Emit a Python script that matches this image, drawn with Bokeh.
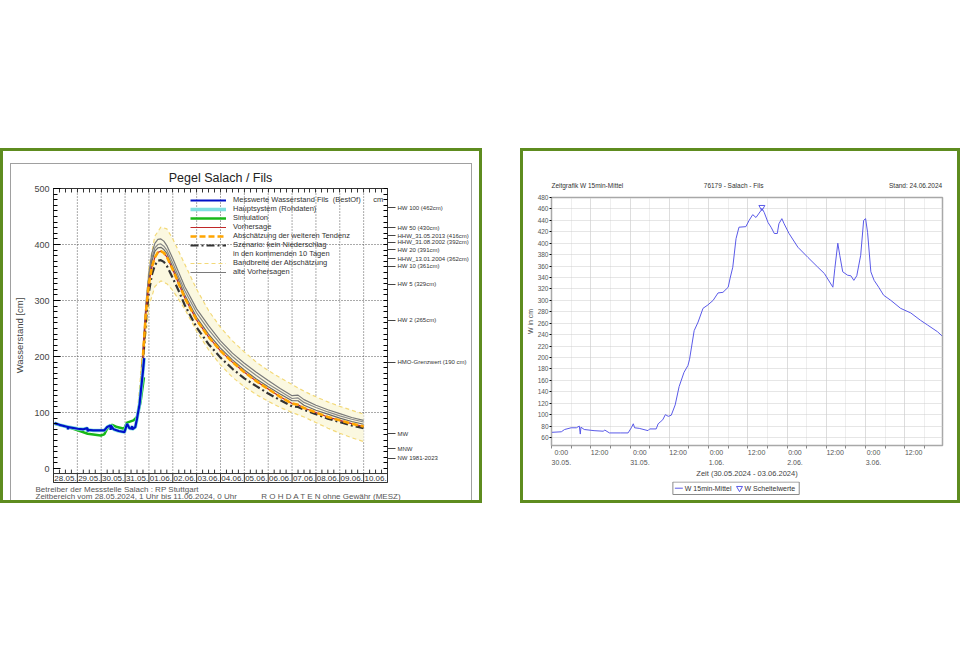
import math
from bokeh.plotting import figure
from bokeh.models import (Range1d, FixedTicker, LinearAxis, Spacer, Title)
from bokeh.models import Legend, LegendItem
from bokeh.layouts import row, column
from bokeh.core.properties import value
from bokeh.embed import file_html
from bokeh.resources import INLINE

FONT = "Liberation Sans"
GREEN = "#5e8c1f"
NBSP = "\u00a0"

# ================= LEFT CHART DATA (hours since 28.05.2024 00:00) =================
day_labels = ["28.05.", "29.05.", "30.05.", "31.05.", "01.06.", "02.06.", "03.06.",
              "04.06.", "05.06.", "06.06.", "07.06.", "08.06.", "09.06.", "10.06."]

meas_h = [1, 6, 14.4, 14.6, 14.8, 24.5, 30, 34.2, 34.4, 34.6, 40, 47.6, 51, 54, 57.3, 57.5,
          57.7, 60.5, 65.5, 71.4, 74, 76.4, 78.8, 79, 79.2, 82.3, 84, 86.6, 88, 89.9, 91.2]
meas_v = [81, 78, 74, 70, 74, 71, 70, 72, 66, 69, 68, 68, 68, 74, 77, 69,
          77, 70, 67, 65, 80, 72, 71, 76, 70, 74, 89, 115, 140, 172, 197]

sim_h = [1, 14.6, 24.5, 34.4, 47.6, 51, 54, 59, 64, 71, 74, 80.5, 84, 87.6, 91]
sim_v = [80, 74, 68, 62, 59, 61, 71, 78, 74, 71, 82, 86, 92, 119, 163]

fc_h = [84, 87, 90, 93, 96, 99, 102, 105, 108, 111, 114, 120, 126, 132, 144, 156, 168,
        180, 192, 204, 216, 228, 240, 246, 252, 264, 276, 288, 300, 312]
tendenz = [90, 120, 200, 280, 330, 360, 377, 386, 388, 385, 378, 355, 330, 305, 265, 235, 210,
           190, 172, 156, 142, 128, 116, 114, 108, 100, 92, 86, 80, 75]
alt1 = [90, 125, 210, 295, 350, 385, 402, 409, 410, 406, 398, 375, 350, 325, 285, 255, 228,
        206, 188, 172, 157, 143, 130, 131, 123, 113, 105, 98, 91, 86]
alt2 = [90, 122, 205, 290, 343, 376, 394, 400, 401, 397, 390, 367, 342, 318, 278, 248, 222,
        200, 182, 166, 151, 138, 125, 126, 118, 109, 101, 94, 88, 83]
alt3 = [90, 121, 203, 286, 338, 370, 388, 394, 395, 391, 384, 360, 336, 310, 270, 240, 215,
        194, 176, 160, 146, 133, 121, 121, 113, 104, 97, 90, 84, 79]
szenario = [90, 118, 190, 265, 315, 346, 363, 371, 372, 369, 362, 340, 317, 292, 252, 222, 198,
            178, 161, 147, 134, 122, 111, 110, 105, 97, 89, 83, 77, 72]

band_h = [84, 90, 96, 102, 108, 114, 120, 132, 144, 156, 168, 180, 192, 204, 216, 228, 240,
          252, 264, 276, 288, 300, 312]
band_hi = [92, 215, 360, 415, 431, 428, 410, 365, 320, 282, 252, 228, 208, 190, 175, 162, 150,
           138, 128, 119, 111, 104, 97]
band_lo = [88, 185, 290, 325, 335, 330, 318, 285, 245, 212, 185, 163, 146, 132, 120, 109, 100,
           92, 82, 72, 63, 55, 48]

ann_vals = [462, 430, 416, 392, 391, 362, 361, 329, 265, 190, 62, 30, 20]
ann_text = ["HW 100 (462cm)", "HW 50 (430cm)", "HHW_31.05.2013 (416cm)", "HHW_31.08.2002 (392cm)",
            "HW 20 (391cm)", "HHW_13.01.2004 (362cm)", "HW 10 (361cm)", "HW 5 (329cm)",
            "HW 2 (265cm)", "HMO-Grenzwert (190 cm)", "MW", "MNW", "NW 1981-2023"]
ann_nudge_px = [2, 0, 0, 7, 0, 7, 0, 0, 0, 0, 0, 3, -1]   # label nudges (layout only)

# ================= RIGHT CHART DATA (hours since 30.05.2024 00:00) =================
w_h = [0, 3, 4, 6, 7.6, 8.5, 8.8, 9.0, 10, 13, 15.8, 16.3, 17.7, 21, 23.4, 24.4, 25, 25.4,
       26.8, 29.5, 30, 32, 32.6, 33.2, 34, 34.8, 35.7, 36.6, 37.8, 39, 40.5, 41.7, 42.2, 43.6,
       44.8, 46.3, 47.8, 49.4, 50.9, 52.4, 54, 54.6, 55.4, 56.4, 57.3, 59.4, 60.4, 61.5, 62.5,
       64, 64.3, 65, 66.2, 67.1, 68.1, 69, 69.5, 70.4, 71.1, 72.6, 75.3, 78.4, 81.4, 83.4, 86,
       86.6, 87.5, 88.1, 89, 90.5, 91.5, 92.4, 93.3, 94.5, 95.4, 96, 96.6, 97.6, 98.6, 100,
       101.5, 103.7, 106.7, 109.8, 112.8, 114.9, 118, 119.3]
w_v = [69, 70, 74, 77, 77, 80, 66, 78, 74, 72, 71, 73, 68, 68, 68, 77, 84, 77,
       76, 72, 75, 75, 84, 87, 91, 100, 97, 99, 117, 149, 174, 186, 197, 247,
       262, 286, 292, 300, 313, 314, 323, 339, 358, 408, 428, 429, 440, 450, 445,
       457, 461, 454, 436, 428, 417, 417, 434, 443, 434, 417, 393, 375, 358, 347, 323,
       356, 400, 379, 350, 344, 343, 335, 343, 379, 440, 443, 419, 350, 335, 323,
       309, 300, 286, 278, 265, 257, 245, 238]
peak_h = [64.3]
peak_v = [463]
r_time_labels = ["0:00", "12:00", "0:00", "12:00", "0:00", "12:00", "0:00", "12:00", "0:00", "12:00"]
r_date_labels = ["30.05.", "", "31.05.", "", "1.06.", "", "2.06.", "", "3.06.", ""]
hdr_texts = ["Zeitgrafik W 15min-Mittel", "76179 - Salach - Fils", "Stand: 24.06.2024"]
legend_texts = ["W 15min-Mittel", "W Scheitelwerte"]

# ================= LEFT FIGURE =================
n_days = len(day_labels)
x_end = n_days * 24
pl = figure(width=460, height=336, x_range=Range1d(0, x_end), y_range=Range1d(-25, 500),
            x_axis_type=None, output_backend="svg", toolbar_location=None,
            min_border_left=41, min_border_right=81, min_border_top=24, min_border_bottom=16,
            background_fill_color="white", border_fill_color="white",
            outline_line_color="#333333", outline_line_width=1)

pl.title.text = "Pegel Salach / Fils"
pl.title.align = "center"
pl.title.offset = 10
pl.title.standoff = 8
pl.title.text_font = FONT
pl.title.text_font_size = "12.5px"
pl.title.text_font_style = "normal"
pl.title.text_color = "#222222"

ya = pl.yaxis[0]
ya.ticker = FixedTicker(ticks=[0, 100, 200, 300, 400, 500], minor_ticks=list(range(0, 501, 10)))
ya.major_tick_in = 7
ya.major_tick_out = 0
ya.minor_tick_in = 4
ya.minor_tick_out = 0
ya.major_label_standoff = 4
ya.major_label_text_font = FONT
ya.major_label_text_font_size = "9px"
ya.major_label_text_color = "#444444"
ya.axis_label = "Wasserstand [cm]"
ya.axis_label_text_font = FONT
ya.axis_label_text_font_size = "9.5px"
ya.axis_label_text_font_style = "normal"
ya.axis_label_text_color = "#444444"
ya.axis_label_standoff = 6
ya.axis_line_color = "#333333"

pl.ygrid.ticker = FixedTicker(ticks=[100, 200, 300, 400])
pl.ygrid.grid_line_color = "#555555"
pl.ygrid.grid_line_dash = "1 2"

six_h = list(range(0, x_end + 1, 6))
top_axis = LinearAxis(ticker=FixedTicker(ticks=[], minor_ticks=six_h),
                      major_label_standoff=0,
                      minor_tick_in=4, minor_tick_out=0, major_tick_in=0, major_tick_out=0,
                      axis_line_color="#333333", minor_tick_line_color="#333333")
pl.add_layout(top_axis, "above")

px_per_cm = 296 / 525.0
ann_pos = [round(v + d / px_per_cm, 1) for v, d in zip(ann_vals, ann_nudge_px)]
right_axis = LinearAxis(ticker=FixedTicker(ticks=ann_pos, minor_ticks=list(range(0, 501, 10))),
                        major_label_overrides={p: t for p, t in zip(ann_pos, ann_text)},
                        major_tick_out=8, major_tick_in=0, minor_tick_in=4, minor_tick_out=0,
                        major_label_standoff=2, major_label_text_font=FONT,
                        major_label_text_font_size="6px", major_label_text_color="#333333",
                        axis_line_color="#333333", major_tick_line_color="#444444")
pl.add_layout(right_axis, "right")

bottom_text = ("Betreiber der Messstelle Salach : RP Stuttgart\n"
               "Zeitbereich vom 28.05.2024, 1 Uhr bis 11.06.2024, 0 Uhr" + NBSP * 11 +
               "R O H D A T E N  ohne Gewähr (MESZ)")
pl.add_layout(Title(text=bottom_text, align="left", offset=-18, standoff=0, text_font=FONT,
                    text_font_size="8px", text_font_style="normal", text_line_height=0.75,
                    text_color="#555555"), "below")

day_bounds = [24 * i for i in range(1, n_days)]
day_centers = [24 * i + 12 for i in range(n_days)]
small_ticks = [h for h in six_h if h % 24 != 0]

pl.segment(x0=day_bounds, y0=[-9] * len(day_bounds), x1=day_bounds, y1=[500] * len(day_bounds),
           line_color="#555555", line_dash="1 2", line_width=1)
pl.segment(x0=[0], y0=[-9], x1=[x_end], y1=[-9], line_color="#333333", line_width=1)
pl.segment(x0=day_bounds, y0=[-25] * len(day_bounds), x1=day_bounds, y1=[-9] * len(day_bounds),
           line_color="#333333", line_width=1)
pl.segment(x0=small_ticks, y0=[-9] * len(small_ticks), x1=small_ticks, y1=[-2] * len(small_ticks),
           line_color="#333333", line_width=1)
pl.text(x=day_centers, y=[-17] * n_days, text=day_labels, text_align="center",
        text_baseline="middle", text_font=value(FONT), text_font_size="8px", text_color="#333333")

pl.varea(x=band_h, y1=band_lo, y2=band_hi, fill_color="#fbf8e0", fill_alpha=1)
r_band = pl.line(band_h, band_hi, line_color="#f3d978", line_width=1.2, line_dash="4 3")
pl.line(band_h, band_lo, line_color="#f3d978", line_width=1.2, line_dash="4 3")

r_alt = pl.line(fc_h, alt1, line_color="#7a7a7a", line_width=1.2)
pl.line(fc_h, alt2, line_color="#8a8a8a", line_width=1.2)
pl.line(fc_h, alt3, line_color="#6a6a6a", line_width=1.2)
r_szen = pl.line(fc_h, szenario, line_color="#333333", line_width=2.2, line_dash="8 3 2 3")
r_vorh = pl.line(fc_h, tendenz, line_color="#c02828", line_width=1.2)
r_tend = pl.line(fc_h, tendenz, line_color="#ffa500", line_width=2.6, line_dash="6 3")

r_sim = pl.line(sim_h, sim_v, line_color="#18b818", line_width=2.5)
r_haupt = pl.line(meas_h, meas_v, line_color="#7fe0e0", line_width=3.5)
r_meas = pl.line(meas_h, meas_v, line_color="#0010c8", line_width=2.2)
r_dummy = pl.line([], [], line_alpha=0)

legend_l = Legend(items=[
    LegendItem(label="Messwerte Wasserstand Fils  (BestOf)      cm", renderers=[r_meas]),
    LegendItem(label="Hauptsystem (Rohdaten)", renderers=[r_haupt]),
    LegendItem(label="Simulation", renderers=[r_sim]),
    LegendItem(label="Vorhersage", renderers=[r_vorh]),
    LegendItem(label="Abschätzung der weiteren Tendenz", renderers=[r_tend]),
    LegendItem(label="Szenario: kein Niederschlag", renderers=[r_szen]),
    LegendItem(label="in den kommenden 10 Tagen", renderers=[r_dummy]),
    LegendItem(label="Bandbreite der Abschätzung", renderers=[r_band]),
    LegendItem(label="alte Vorhersagen", renderers=[r_alt]),
], location=(135, 204), background_fill_alpha=0, border_line_alpha=0, padding=2, margin=0,
    spacing=0, glyph_width=36, glyph_height=8, label_height=8, label_standoff=7,
    label_text_font=FONT, label_text_font_size="7.5px", label_text_color="#333333")
pl.add_layout(legend_l)

# ================= RIGHT FIGURE =================
R_W, R_LEFT, R_RIGHT, R_LEG = 434, 26, 15, 19
x0_r, x1_r = 0, 119.5
px_per_h = (R_W - R_LEFT - R_RIGHT) / (x1_r - x0_r)

pr = figure(width=R_W, height=349 - R_LEG, x_range=Range1d(x0_r, x1_r), y_range=Range1d(46, 480),
            title=None, output_backend="svg", toolbar_location=None,
            min_border_left=R_LEFT, min_border_right=R_RIGHT, min_border_top=46, min_border_bottom=35,
            background_fill_color="white", border_fill_color="white",
            outline_line_color="#a8a8a8", outline_line_width=1.5)

major_h = [12 * i for i in range(len(r_time_labels))]
minor_h = [6 * i for i in range(2 * len(r_time_labels))]
x_tick = FixedTicker(ticks=major_h, minor_ticks=minor_h)


def text_w(s, size):
    w = 0.0
    for c in s:
        if c.isdigit():
            w += 0.556
        elif c in ".:, ()-":
            w += 0.3
        elif c in "mwMW":
            w += 0.85
        elif c.isupper():
            w += 0.68
        else:
            w += 0.5
    return w * size


# two-line tick labels, left-aligned at the ticks: label centre = tick + half the block width
x_labels = [t + ("\n" + d if d else "") for t, d in zip(r_time_labels, r_date_labels)]
x_label_pos = [round(h + max(text_w(t, 7), text_w(d, 7)) / 2 / px_per_h, 2)
               for h, t, d in zip(major_h, r_time_labels, r_date_labels)]

xa = pr.xaxis[0]
xa.ticker = FixedTicker(ticks=x_label_pos, minor_ticks=minor_h)
xa.major_label_overrides = {p: t for p, t in zip(x_label_pos, x_labels)}
xa.major_label_text_font = FONT
xa.major_label_text_font_size = "7px"
xa.major_label_text_color = "#555555"
xa.major_label_text_line_height = 1.5
xa.major_label_standoff = 0
xa.major_tick_line_color = None
xa.major_tick_out = 3
xa.minor_tick_out = 3
xa.minor_tick_in = 0
xa.minor_tick_line_color = "#888888"
xa.axis_line_color = "#a8a8a8"
xa.axis_label = "Zeit (30.05.2024 - 03.06.2024)"
xa.axis_label_standoff = 0
xa.axis_label_text_font = FONT
xa.axis_label_text_font_size = "7.5px"
xa.axis_label_text_font_style = "normal"
xa.axis_label_text_color = "#444444"

# header line (label-only axis above the frame); centres in hours
hdr_left_px, hdr_center_px, hdr_right_px = -7, 183, 393
hdr_pos = [round((hdr_left_px + text_w(hdr_texts[0], 6.5) / 2) / px_per_h, 2),
           round(hdr_center_px / px_per_h, 2),
           round((hdr_right_px - text_w(hdr_texts[2], 6.5) / 2) / px_per_h, 2)]
ax_hdr = LinearAxis(ticker=FixedTicker(ticks=hdr_pos),
                    major_label_overrides={p: t for p, t in zip(hdr_pos, hdr_texts)},
                    major_tick_line_color=None, minor_tick_line_color=None, axis_line_color=None,
                    major_label_standoff=3, major_label_text_font=FONT,
                    major_label_text_font_size="6.5px", major_label_text_color="#333333")
pr.add_layout(ax_hdr, "above")

y_tick = FixedTicker(ticks=list(range(60, 481, 20)))
yb = pr.yaxis[0]
yb.ticker = y_tick
yb.major_label_text_font = FONT
yb.major_label_text_font_size = "6.5px"
yb.major_label_text_color = "#555555"
yb.major_label_standoff = 1
yb.major_tick_out = 2
yb.major_tick_in = 0
yb.minor_tick_line_color = None
yb.axis_line_color = "#a8a8a8"
yb.axis_label = "W in cm"
yb.axis_label_text_font = FONT
yb.axis_label_text_font_size = "7px"
yb.axis_label_text_font_style = "normal"
yb.axis_label_text_color = "#444444"
yb.axis_label_standoff = 1

pr.xgrid.ticker = x_tick
pr.xgrid.grid_line_color = "#cccccc"
pr.xgrid.grid_line_dash = "1 1"
pr.xgrid.minor_grid_line_color = "#dddddd"
pr.xgrid.minor_grid_line_dash = "1 1"
pr.ygrid.ticker = y_tick
pr.ygrid.grid_line_color = "#cccccc"
pr.ygrid.grid_line_dash = "1 1"

LINE_C = "#5a5ae8"
pr.line(w_h, w_v, line_color=LINE_C, line_width=1)
pr.scatter(peak_h, peak_v, marker="inverted_triangle", size=6, fill_color=None,
           line_color=LINE_C, line_width=1)

# legend strip below the chart (frame aligned with the chart frame)
leg = figure(width=R_W, height=R_LEG, x_range=Range1d(x0_r, x1_r), y_range=Range1d(0, R_LEG),
             x_axis_type=None, y_axis_type=None, title=None,
             min_border_left=R_LEFT, min_border_right=R_RIGHT, min_border_top=0, min_border_bottom=0,
             output_backend="svg", toolbar_location=None, outline_line_color=None,
             background_fill_color="white", border_fill_color="white")
leg.quad(left=[122 / px_per_h], right=[249 / px_per_h], bottom=[6], top=[18.5], fill_color=None,
         line_color="#8a8a8a", line_width=1)
leg.segment(x0=[124 / px_per_h], y0=[12.3], x1=[132 / px_per_h], y1=[12.3],
            line_color=LINE_C, line_width=1)
leg.text(x=[134 / px_per_h], y=[12.3], text=[legend_texts[0]], text_align="left",
         text_baseline="middle", text_font=value(FONT), text_font_size="7px", text_color="#333333")
leg.scatter(x=[189 / px_per_h], y=[12.3], marker="inverted_triangle", size=6, fill_color=None,
            line_color=LINE_C, line_width=1)
leg.text(x=[194 / px_per_h], y=[12.3], text=[legend_texts[1]], text_align="left",
         text_baseline="middle", text_font=value(FONT), text_font_size="7px", text_color="#333333")

# ================= LAYOUT =================
pl_wrap = column(pl, width=462, height=337,
                 styles={"border-top": "1px solid #a0a0a0", "border-left": "1px solid #a0a0a0",
                         "border-right": "1px solid #a0a0a0", "background-color": "white"})
left_box = column(Spacer(height=12), row(Spacer(width=7), pl_wrap, Spacer(width=7)),
                  width=482, height=355,
                  styles={"border": "3px solid " + GREEN, "background-color": "white"})
right_box = column(pr, leg, width=440, height=355,
                   styles={"border": "3px solid " + GREEN, "background-color": "white"})
page = column(Spacer(height=148), row(left_box, Spacer(width=38), right_box))

open("out.html", "w").write(file_html(page, INLINE))
